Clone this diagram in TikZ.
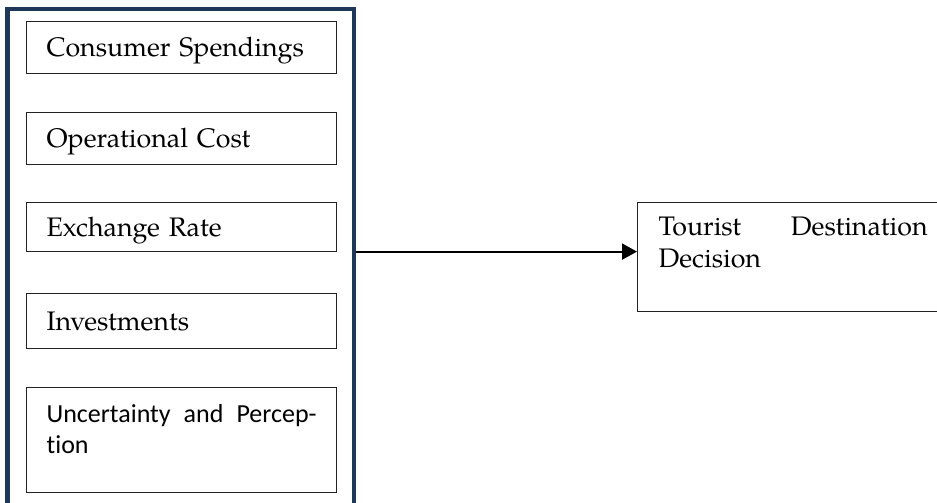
\documentclass[tikz,border=0pt]{standalone}
\usepackage{fontspec}
\setmainfont{TeX Gyre Pagella}
\newfontfamily\calibri[Ligatures=NoCommon]{Carlito}
\usetikzlibrary{arrows.meta}
\definecolor{navy}{RGB}{31,56,88}
\definecolor{boxline}{RGB}{35,35,35}
\tikzset{
    panel/.style = {draw=navy,line width=2.25pt,inner sep=0pt,
        minimum width=173.25pt,minimum height=250.5pt},
    factor/.style = {draw=boxline,line width=0.6pt,anchor=north west,
        inner xsep=10pt,font=\fontsize{13.4}{16}\selectfont},
    short factor/.style = {factor,minimum width=155pt,text width=135pt,
        align=left,inner ysep=0pt,text height=10pt,text depth=1pt},
    flow/.style = {-{Triangle[length=7.5pt,width=8pt]},line width=1pt}
}

\begin{document}
\begin{tikzpicture}[x=0.5pt,y=-0.5pt]
    \useasboundingbox (0,0) rectangle (937,503);
    \clip (0,0) rectangle (937,503);
    \node[panel] (panel) at (180.75,259.5) {};
    \foreach \i/\top/\h/\txt in {1/21/26pt/Consumer Spendings,
                                 2/112/26pt/Operational Cost,
                                 3/202/24.5pt/Exchange Rate,
                                 4/293/27.5pt/Investments}
        {\node[short factor,minimum height=\h] (f\i) at (26,\top) {\txt};}
    \node[factor,inner ysep=8.4pt,font=\calibri\fontsize{13}{15.5}\selectfont]
        (f5) at (26,387) {\parbox[c][35.7pt][t]{135pt}{Uncertainty and Percep-\linebreak tion}};
    \node[factor,inner xsep=10.5pt,inner ysep=7.25pt]
        (decision) at (637,202) {\parbox[c][40pt][t]{134.5pt}{Tourist Destination\linebreak Decision}};
    \coordinate (into) at ([yshift=2.75pt]decision.west);
    \draw[flow] (panel.east |- into) -- (into);
\end{tikzpicture}
\end{document}
